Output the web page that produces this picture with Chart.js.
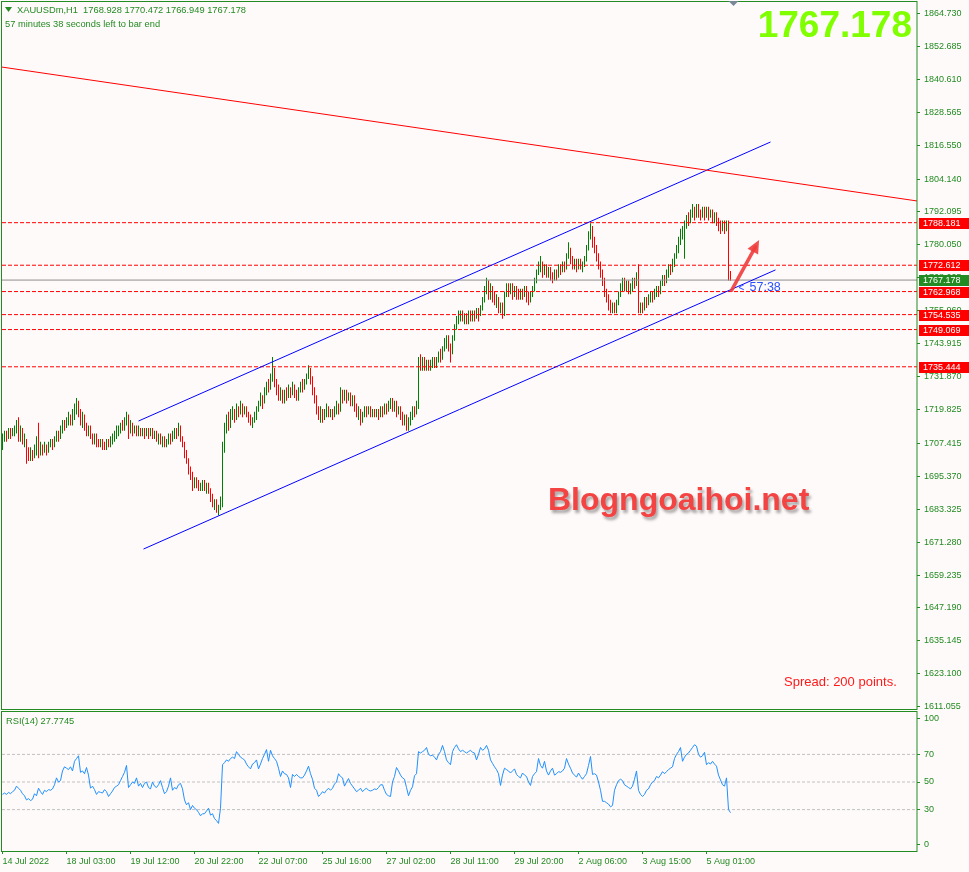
<!DOCTYPE html>
<html>
<head>
<meta charset="utf-8">
<title>XAUUSDm,H1</title>
<script src="https://cdn.jsdelivr.net/npm/chart.js@4.4.0/dist/chart.umd.min.js"></script>
<style>
  html, body { margin: 0; padding: 0; background: #fffafa; }
  #wrap { position: relative; width: 969px; height: 872px; overflow: hidden; background: #fffafa; }
  #mainChart { position: absolute; left: 0; top: 0; }
  #rsiChart { position: absolute; left: 0; top: 711px; }
</style>
</head>
<body>
<div id="wrap">
  <canvas id="mainChart" width="969" height="711"></canvas>
  <canvas id="rsiChart" width="969" height="161"></canvas>
</div>
<script>
// chart data (H1 bars, one per hour)
const symbol = "XAUUSDm,H1";
const timeLabels = ["14 Jul 2022", "18 Jul 03:00", "19 Jul 12:00", "20 Jul 22:00", "22 Jul 07:00", "25 Jul 16:00",
  "27 Jul 02:00", "28 Jul 11:00", "29 Jul 20:00", "2 Aug 06:00", "3 Aug 15:00", "5 Aug 01:00"];
const timeLabelBars = [0, 32, 64, 96, 128, 160, 192, 224, 256, 288, 320, 352];
const priceTicks = [1864.730, 1852.685, 1840.610, 1828.565, 1816.550, 1804.140, 1792.095, 1780.050, 1768.005,
  1755.960, 1743.915, 1731.870, 1719.825, 1707.415, 1695.370, 1683.325, 1671.280, 1659.235, 1647.190,
  1635.145, 1623.100, 1611.055];
const levelPrices = [1788.181, 1772.612, 1762.968, 1754.535, 1749.069, 1735.444];
const rsiLevels = [30, 50, 70];
const rsiTickValues = [96, 70, 50, 30, 5];
const rsiTickLabels = ["100", "70", "50", "30", "0"];

const firstOpen = 1707;
const closes = [
  1709,1711,1710,1712,1711,1712,1713,1715,1710,1713,
  1708,1709,1704,1703,1705,1703,1706,1708,1704,1706,
  1705,1706,1705,1707,1708,1707,1709,1711,1710,1713,
  1715,1714,1716,1717,1715,1718,1720,1722,1719,1716,
  1718,1714,1712,1713,1710,1709,1710,1708,1707,1708,
  1707,1706,1708,1707,1709,1710,1711,1712,1713,1714,
  1713,1716,1718,1713,1714,1712,1713,1712,1713,1711,
  1712,1711,1712,1711,1712,1710,1711,1709,1710,1708,
  1709,1707,1708,1710,1709,1710,1712,1711,1713,1709,
  1707,1704,1701,1698,1696,1692,1694,1693,1691,1692,
  1693,1691,1692,1690,1688,1685,1686,1683,1684,1687,
  1706,1712,1716,1714,1718,1719,1717,1720,1719,1721,
  1719,1720,1718,1717,1715,1716,1718,1720,1722,1724,
  1723,1727,1729,1728,1732,1734,1730,1728,1725,1726,
  1724,1726,1725,1727,1726,1728,1726,1724,1727,1729,
  1728,1730,1732,1735,1731,1727,1724,1720,1718,1719,
  1717,1719,1720,1718,1719,1718,1720,1721,1720,1726,
  1724,1726,1724,1725,1723,1724,1721,1719,1720,1717,
  1718,1720,1719,1720,1718,1719,1718,1719,1718,1720,
  1719,1721,1720,1722,1723,1721,1722,1719,1720,1718,
  1716,1717,1714,1716,1718,1720,1719,1722,1737,1736,
  1738,1736,1737,1735,1737,1738,1736,1738,1740,1739,
  1742,1744,1746,1743,1741,1746,1750,1752,1754,1755,
  1753,1754,1752,1755,1753,1755,1754,1756,1755,1757,
  1760,1763,1766,1762,1764,1761,1759,1760,1757,1758,
  1755,1762,1764,1763,1765,1762,1764,1763,1761,1763,
  1762,1764,1761,1760,1762,1764,1767,1770,1772,1773,
  1770,1772,1770,1771,1769,1768,1770,1769,1772,1771,
  1773,1772,1776,1778,1775,1773,1774,1772,1774,1772,
  1773,1775,1779,1784,1786,1781,1779,1776,1773,1770,
  1767,1763,1761,1759,1757,1758,1756,1759,1762,1765,
  1767,1765,1766,1764,1765,1767,1766,1769,1757,1758,
  1757,1760,1759,1761,1762,1761,1763,1764,1763,1766,
  1768,1767,1770,1772,1771,1774,1776,1779,1782,1784,
  1786,1788,1790,1789,1792,1793,1791,1794,1792,1791,
  1793,1792,1793,1791,1792,1790,1791,1789,1787,1786,
  1788,1786,1788.5,1768.928,1767.178
];
const highs = [
  1711,1712,1712,1713,1713,1713,1714,1716,1717,1714,
  1713,1711,1709,1706,1706,1705,1707,1710,1715,1708,
  1707,1708,1707,1708,1709,1709,1710,1712,1712,1714,
  1716,1716,1717,1719,1718,1720,1722,1724,1723,1720,
  1719,1718,1715,1714,1714,1711,1711,1711,1709,1709,
  1709,1708,1709,1709,1710,1711,1712,1714,1714,1715,
  1716,1717,1719,1718,1716,1715,1714,1714,1714,1713,
  1713,1713,1713,1713,1713,1713,1712,1712,1711,1711,
  1710,1710,1709,1711,1711,1712,1713,1713,1715,1714,
  1710,1708,1705,1702,1699,1697,1695,1695,1694,1693,
  1694,1694,1693,1693,1691,1689,1687,1687,1685,1688,
  1708,1715,1718,1719,1720,1721,1720,1722,1721,1723,
  1722,1721,1721,1719,1718,1717,1719,1721,1723,1726,
  1725,1728,1730,1731,1733,1739,1735,1731,1729,1728,
  1727,1727,1728,1729,1728,1730,1729,1727,1728,1730,
  1731,1731,1733,1736,1735,1732,1728,1725,1721,1721,
  1720,1720,1722,1721,1720,1720,1721,1723,1722,1728,
  1727,1727,1727,1726,1726,1725,1725,1722,1721,1720,
  1719,1721,1721,1721,1721,1720,1720,1720,1720,1721,
  1721,1722,1722,1723,1724,1724,1723,1723,1721,1721,
  1719,1718,1718,1717,1719,1721,1721,1723,1739,1740,
  1739,1739,1738,1738,1738,1739,1739,1739,1741,1742,
  1743,1746,1747,1747,1744,1747,1751,1754,1756,1756,
  1756,1755,1755,1756,1756,1756,1756,1757,1757,1758,
  1761,1765,1768,1767,1766,1765,1763,1762,1761,1759,
  1759,1763,1766,1766,1766,1766,1765,1765,1764,1764,
  1764,1765,1765,1763,1763,1765,1768,1771,1774,1776,
  1774,1773,1773,1772,1772,1770,1771,1771,1773,1773,
  1774,1774,1777,1781,1779,1776,1775,1775,1775,1775,
  1774,1776,1780,1785,1788,1787,1783,1780,1777,1774,
  1771,1768,1764,1762,1760,1759,1759,1760,1763,1766,
  1768,1768,1767,1767,1766,1768,1768,1770,1773,1759,
  1759,1761,1761,1762,1763,1763,1764,1765,1765,1767,
  1769,1769,1771,1773,1773,1775,1777,1780,1783,1786,
  1787,1789,1791,1792,1793,1795,1794,1795,1795,1793,
  1794,1794,1794,1794,1793,1793,1792,1792,1790,1789,
  1789,1789,1789,1789,1770.472
];
const lows = [
  1705,1708,1708,1709,1709,1710,1710,1711,1708,1708,
  1707,1706,1700,1701,1701,1701,1702,1703,1702,1703,
  1703,1704,1703,1704,1706,1705,1706,1708,1708,1709,
  1711,1712,1713,1714,1714,1714,1716,1718,1717,1714,
  1713,1712,1710,1710,1709,1707,1707,1706,1706,1706,
  1705,1705,1705,1706,1706,1707,1708,1709,1710,1711,
  1712,1712,1714,1709,1711,1710,1711,1710,1710,1710,
  1710,1709,1710,1709,1710,1709,1709,1708,1707,1707,
  1706,1706,1706,1707,1707,1708,1709,1709,1710,1708,
  1706,1702,1700,1696,1694,1690,1691,1691,1690,1690,
  1690,1690,1689,1689,1686,1684,1683,1682,1681,1683,
  1684,1704,1711,1712,1713,1716,1715,1716,1717,1718,
  1717,1718,1717,1715,1714,1713,1715,1716,1719,1721,
  1720,1722,1725,1726,1727,1730,1728,1725,1723,1723,
  1722,1722,1723,1724,1724,1725,1724,1723,1723,1726,
  1726,1727,1729,1731,1729,1725,1722,1718,1716,1715,
  1715,1716,1717,1717,1717,1716,1717,1718,1718,1719,
  1722,1723,1722,1723,1721,1721,1719,1717,1716,1714,
  1715,1717,1717,1718,1717,1717,1717,1717,1716,1717,
  1717,1718,1718,1719,1720,1719,1719,1717,1718,1716,
  1714,1714,1712,1712,1714,1716,1717,1718,1720,1734,
  1734,1734,1734,1734,1734,1735,1735,1735,1737,1737,
  1738,1741,1742,1741,1737,1740,1745,1749,1751,1752,
  1752,1751,1751,1751,1752,1752,1752,1753,1752,1754,
  1756,1759,1762,1760,1760,1759,1758,1757,1755,1755,
  1753,1754,1761,1761,1762,1760,1761,1760,1760,1760,
  1760,1761,1759,1758,1759,1761,1763,1766,1769,1770,
  1768,1769,1768,1768,1767,1766,1767,1767,1768,1769,
  1770,1770,1771,1775,1773,1771,1771,1770,1771,1771,
  1770,1772,1774,1778,1782,1779,1777,1774,1771,1768,
  1765,1761,1759,1756,1755,1755,1755,1755,1758,1761,
  1763,1763,1763,1762,1762,1763,1764,1765,1755,1755,
  1755,1756,1757,1758,1759,1759,1760,1761,1761,1762,
  1765,1765,1766,1768,1769,1770,1772,1775,1777,1780,
  1782,1775,1786,1787,1788,1790,1789,1790,1790,1789,
  1790,1789,1790,1789,1790,1788,1788,1787,1785,1784,
  1785,1784,1785,1767,1766.949
];
const rsiValues = [
  41,42,41,42.5,41.5,43,44,47,45.5,44,
  41.5,40,37,38,36.5,37.5,41.5,40,45.5,43,
  41,44,43,44.5,44,45,48,53,50,51,
  58,61,60,59,61,58,65,67,69,57,
  58,56,60.5,55,45.5,47,44.5,41,43,42.5,
  42,44.5,43,39.5,41.5,43.5,46,47,48,51,
  54,57,62,46,48,50,49,53,47,49,
  46,49,50,46,45,50,47,46,48,51,
  46,41.5,43,47,53,44,46,45,48,49,
  45,37,33.5,35,30,33,31,30,28,25.5,
  27,27,29,31,26,27,23.5,22,20,31,
  62.5,64,66,65,67,68,67,72,70,68,
  67,66,63,61,59.5,63,64,66,59.5,63,
  67,70,73.5,65,73,69,67,65,60,54,
  58,56,55.5,53,46,55.5,54,55.5,54,53,
  53,55,58,61.5,56,52,45.5,44,39.5,41,
  43,42,44,45.5,44,45.5,48.5,50,56,54,
  53,47,50,52.5,49,47,45,43,44,45.5,
  43,44.5,45.5,44,43.5,44,45,44.5,46,48,
  48,44,41,40,39.5,50,54,60.5,58,55,
  53,52,46,40,44,46.5,54.5,56,72,71,
  72,73,75,70,69,69.5,68,66,70,72,
  76.5,72,66,64,62.5,72,75,77,74,72,
  73,72,71,72,73,71.5,71,66,70,75,
  73,74,76.5,73,66,63.5,61,59,56,47.5,
  55,60,59,58,56.5,58,59.5,55.5,54,53,
  56.5,55,54,50,47.5,54,56,57.5,67,62,
  60,65,58,55,58,60,55,56,57.5,57,
  58,60,67,63,60,56.5,55,53.5,56.5,54,
  52,54,56,62,68.5,55.5,56,55,50,44,
  36,36,35,34,32,33,44,48,51,52,
  51,48,47,46,45,47,52,58,44,41,
  39.5,41,44,45,48,50,51,54,53,55,
  57.5,56,57.5,59,60,61,67,70,72,75,
  65,68,70,71,73,75,77,76,70,68,
  69,71.5,62.5,64,63,65,63,61.5,55,51.5,
  48,47,53,30,27.7745
];

// drawn objects: [bar index, price]
const resistanceLine = [[-1, 1845.2], [457.5, 1796.1]];
const channelUpper = [[68, 1715.6], [384, 1817.7]];
const channelLower = [[70.5, 1668.75], [386.5, 1770.9]];
const arrowPath = [[364.6, 1763.5], [378.3, 1781.8]];

if (closes.length !== highs.length || closes.length !== lows.length || closes.length !== rsiValues.length) {
  throw new Error("length mismatch " + [closes.length, highs.length, lows.length, rsiValues.length].join(","));
}

const xMin = -0.25;
const xMax = 457.25;
const axisGreen = "#228b22";
const fontFamily = "'Liberation Sans', Arial, sans-serif";
Chart.defaults.font.family = fontFamily;

const lastIdx = closes.length - 1;
const opens = closes.map((c, i) => (i === 0 ? firstOpen : closes[i - 1]));
const candleColors = closes.map((c, i) => (c >= opens[i] ? "#008000" : "#ff0000"));
const currentPrice = closes[lastIdx];

// keep the scale from reserving room for half-labels at its ends
const noScalePadding = (s, w, h) => {
  if (w) s.width = w;
  if (h) s.height = h;
  s.paddingTop = 0;
  s.paddingBottom = 0;
  s.paddingLeft = 0;
  s.paddingRight = 0;
};

const segment = (pts, color, dash, order) => ({
  type: "line",
  data: pts.map((p) => ({ x: p[0], y: p[1] })),
  borderColor: color,
  borderWidth: 1,
  borderDash: dash || [],
  pointRadius: 0,
  fill: false,
  order: order || 0,
});

const mainOverlay = {
  id: "mainOverlay",
  afterDraw(chart) {
    const ctx = chart.ctx;
    const xs = chart.scales.x;
    const ys = chart.scales.y;
    const area = chart.chartArea;
    ctx.save();

    // panel frame
    ctx.strokeStyle = axisGreen;
    ctx.lineWidth = 1;
    ctx.strokeRect(1.5, 1.5, area.right - 1.5, area.bottom - 2);

    // level boxes on the price axis
    ctx.font = "9px " + fontFamily;
    ctx.textBaseline = "middle";
    ctx.textAlign = "left";
    levelPrices.forEach((v) => {
      const y = Math.round(ys.getPixelForValue(v));
      ctx.fillStyle = "#ff0000";
      ctx.fillRect(area.right + 2, y - 5, 50, 11);
      ctx.fillStyle = "#ffffff";
      ctx.fillText(v.toFixed(3), area.right + 6, y + 0.5);
    });
    const cy = Math.round(ys.getPixelForValue(currentPrice));
    ctx.fillStyle = axisGreen;
    ctx.fillRect(area.right + 2, cy - 5, 50, 11);
    ctx.fillStyle = "#ffffff";
    ctx.fillText(currentPrice.toFixed(3), area.right + 6, cy + 0.5);

    // header
    ctx.fillStyle = axisGreen;
    ctx.beginPath();
    ctx.moveTo(5, 7);
    ctx.lineTo(12, 7);
    ctx.lineTo(8.5, 12);
    ctx.closePath();
    ctx.fill();
    ctx.font = "9.3px " + fontFamily;
    ctx.textBaseline = "alphabetic";
    const ohlc = [opens[lastIdx], highs[lastIdx], lows[lastIdx], closes[lastIdx]].map((v) => v.toFixed(3)).join(" ");
    ctx.fillText(symbol + "  " + ohlc, 17, 13);
    ctx.fillText("57 minutes 38 seconds left to bar end", 5, 27);

    // chart shift marker
    const sx = Math.round(xs.getPixelForValue(closes.length)) + 0.5;
    ctx.fillStyle = "#778899";
    ctx.beginPath();
    ctx.moveTo(sx - 5, 1);
    ctx.lineTo(sx + 5, 1);
    ctx.lineTo(sx, 6);
    ctx.closePath();
    ctx.fill();

    // big bid price
    ctx.font = "bold 37px " + fontFamily;
    ctx.fillStyle = "#7fff00";
    ctx.textAlign = "right";
    ctx.fillText(currentPrice.toFixed(3), 912, 37);

    // bar countdown
    ctx.textAlign = "left";
    ctx.fillStyle = "#2850ff";
    const ly = ys.getPixelForValue(currentPrice) + 11;
    const lx = xs.getPixelForValue(lastIdx);
    ctx.font = "10px " + fontFamily;
    ctx.fillText("<", lx + 8, ly);
    ctx.font = "12.5px " + fontFamily;
    ctx.fillText("57:38", lx + 19, ly);

    // arrow
    const ax0 = xs.getPixelForValue(arrowPath[0][0]);
    const ay0 = ys.getPixelForValue(arrowPath[0][1]);
    const ax1 = xs.getPixelForValue(arrowPath[1][0]);
    const ay1 = ys.getPixelForValue(arrowPath[1][1]);
    const ang = Math.atan2(ay1 - ay0, ax1 - ax0);
    ctx.strokeStyle = "rgba(240,60,60,0.9)";
    ctx.fillStyle = "rgba(240,60,60,0.9)";
    ctx.lineWidth = 3.5;
    ctx.lineCap = "round";
    ctx.beginPath();
    ctx.moveTo(ax0, ay0);
    ctx.lineTo(ax1 - 8 * Math.cos(ang), ay1 - 8 * Math.sin(ang));
    ctx.stroke();
    ctx.beginPath();
    ctx.moveTo(ax1, ay1);
    ctx.lineTo(ax1 - 13 * Math.cos(ang) + 6 * Math.sin(ang), ay1 - 13 * Math.sin(ang) - 6 * Math.cos(ang));
    ctx.lineTo(ax1 - 13 * Math.cos(ang) - 6 * Math.sin(ang), ay1 - 13 * Math.sin(ang) + 6 * Math.cos(ang));
    ctx.closePath();
    ctx.fill();

    // watermark
    ctx.save();
    ctx.shadowColor = "rgba(0,0,0,0.35)";
    ctx.shadowOffsetX = 2;
    ctx.shadowOffsetY = 3;
    ctx.shadowBlur = 3;
    ctx.font = "bold 32px " + fontFamily;
    ctx.fillStyle = "#f44343";
    ctx.fillText("Blogngoaihoi.net", 548, 510);
    ctx.restore();

    // spread
    ctx.font = "13px " + fontFamily;
    ctx.fillStyle = "#ff1a1a";
    ctx.fillText("Spread: 200 points.", 784, 686);
    ctx.restore();
  },
};

new Chart(document.getElementById("mainChart"), {
  type: "bar",
  data: {
    datasets: [
      {
        type: "bar",
        data: closes.map((c, i) => ({ x: i, y: [lows[i], highs[i]] })),
        backgroundColor: candleColors,
        borderWidth: 0,
        barThickness: 1,
        inflateAmount: 0,
        order: 10,
      },
      segment([[xMin, currentPrice], [xMax, currentPrice]], "#8c8c8c", [], 5),
      ...levelPrices.map((v) => segment([[xMin, v], [xMax, v]], "#ff0000", [4, 2], 4)),
      segment(resistanceLine, "#ff0000"),
      segment(channelUpper, "#0000ff"),
      segment(channelLower, "#0000ff"),
    ],
  },
  options: {
    responsive: false,
    animation: false,
    devicePixelRatio: 1,
    events: [],
    layout: { padding: { left: 2, top: 1, right: 0, bottom: 1 }, autoPadding: false },
    plugins: { legend: { display: false }, tooltip: { enabled: false } },
    scales: {
      x: { type: "linear", min: xMin, max: xMax, offset: false, display: false },
      y: {
        position: "right",
        min: 1609.85,
        max: 1869.3,
        afterFit: (s) => noScalePadding(s, 52),
        afterBuildTicks: (s) => { s.ticks = priceTicks.map((v) => ({ value: v })); },
        grid: { drawOnChartArea: false, drawTicks: true, tickLength: 3, color: axisGreen },
        border: { display: false },
        ticks: {
          color: axisGreen,
          padding: 4,
          autoSkip: false,
          font: { size: 9 },
          callback: (v) => Number(v).toFixed(3),
        },
      },
    },
  },
  plugins: [mainOverlay],
});

const rsiOverlay = {
  id: "rsiOverlay",
  afterDraw(chart) {
    const ctx = chart.ctx;
    const area = chart.chartArea;
    ctx.save();
    ctx.strokeStyle = axisGreen;
    ctx.lineWidth = 1;
    ctx.strokeRect(1.5, 0.5, area.right - 1.5, area.bottom);
    ctx.fillStyle = axisGreen;
    ctx.font = "9.3px " + fontFamily;
    ctx.fillText("RSI(14) " + rsiValues[lastIdx].toFixed(4), 6, 13);
    ctx.restore();
  },
};

new Chart(document.getElementById("rsiChart"), {
  type: "line",
  data: {
    datasets: [
      {
        data: rsiValues.map((v, i) => ({ x: i, y: v })),
        borderColor: "#1e90ff",
        borderWidth: 1,
        pointRadius: 0,
        fill: false,
        order: 0,
      },
      ...rsiLevels.map((l) => ({
        data: [{ x: xMin, y: l }, { x: xMax, y: l }],
        borderColor: "#c0c0c0",
        borderWidth: 1,
        borderDash: [3, 2],
        pointRadius: 0,
        fill: false,
        order: 1,
      })),
    ],
  },
  options: {
    responsive: false,
    animation: false,
    devicePixelRatio: 1,
    events: [],
    layout: { padding: { left: 2, top: 2, right: 0, bottom: 0 }, autoPadding: false },
    plugins: { legend: { display: false }, tooltip: { enabled: false } },
    scales: {
      x: {
        type: "linear",
        min: xMin,
        max: xMax,
        offset: false,
        afterFit: (s) => noScalePadding(s, 0, 21),
        afterBuildTicks: (s) => { s.ticks = timeLabelBars.map((v) => ({ value: v })); },
        grid: { drawOnChartArea: false, drawTicks: true, tickLength: 3, color: axisGreen },
        border: { display: false },
        ticks: {
          color: axisGreen,
          padding: 2,
          autoSkip: false,
          maxRotation: 0,
          minRotation: 0,
          align: "start",
          font: { size: 9 },
          callback: (v, i) => timeLabels[i],
        },
      },
      y: {
        position: "right",
        min: 0,
        max: 100,
        afterFit: (s) => noScalePadding(s, 52),
        afterBuildTicks: (s) => { s.ticks = rsiTickValues.map((v) => ({ value: v })); },
        grid: { drawOnChartArea: false, drawTicks: true, tickLength: 3, color: axisGreen },
        border: { display: false },
        ticks: {
          color: axisGreen,
          padding: 4,
          autoSkip: false,
          font: { size: 9 },
          callback: (v, i) => rsiTickLabels[i],
        },
      },
    },
  },
  plugins: [rsiOverlay],
});
</script>
</body>
</html>
